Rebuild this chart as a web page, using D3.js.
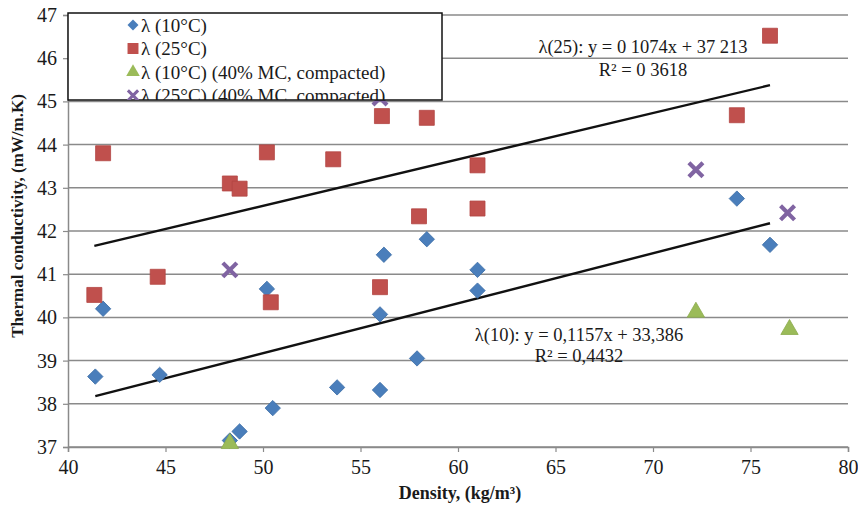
<!DOCTYPE html>
<html>
<head>
<meta charset="utf-8">
<script src="https://cdn.jsdelivr.net/npm/d3@7/dist/d3.min.js"></script>
<style>
  body { margin: 0; background: #fff; }
  svg { display: block; }
  text { font-family: "Liberation Serif", "Times New Roman", serif; fill: #1a1a1a; }
</style>
</head>
<body>
<div id="chart"></div>
<script>
(function() {
  'use strict';

  // lambda at 10 C
  var t10Density = [41.4, 41.8, 44.7, 48.3, 48.8, 50.2, 50.5, 53.8, 56.0, 56.0, 56.2, 57.9, 58.4, 61.0, 61.0, 74.3, 76.0];
  var t10Lambda  = [38.63, 40.2, 38.67, 37.15, 37.36, 40.66, 37.9, 38.38, 38.32, 40.07, 41.45, 39.05, 41.81, 40.62, 41.1, 42.75, 41.68];

  // lambda at 25 C
  var t25Density = [41.35, 41.8, 44.6, 48.3, 48.8, 50.2, 50.4, 53.6, 56.0, 56.1, 58.0, 58.4, 61.0, 61.0, 74.3, 76.0];
  var t25Lambda  = [40.52, 43.8, 40.94, 43.1, 42.98, 43.82, 40.35, 43.66, 40.7, 44.66, 42.34, 44.62, 43.52, 42.52, 44.68, 46.52];

  // 40% MC, compacted
  var c10Density = [48.3, 72.2, 77.0];
  var c10Lambda  = [37.08, 40.12, 39.72];
  var c25Density = [48.3, 56.0, 72.2, 76.9];
  var c25Lambda  = [41.1, 45.08, 43.42, 42.42];

  var seriesNames = ['\u03bb (10\u00b0C)', '\u03bb (25\u00b0C)',
                     '\u03bb (10\u00b0C) (40% MC, compacted)', '\u03bb (25\u00b0C) (40% MC, compacted)'];

  // trend lines as printed on the chart
  var fit10 = { slope: 0.1157, intercept: 33.386 };
  var fit25 = { slope: 0.1074, intercept: 37.213 };
  var fit10Label = ['\u03bb(10): y = 0,1157x + 33,386', 'R\u00b2 = 0,4432'];
  var fit25Label = ['\u03bb(25): y = 0 1074x + 37 213', 'R\u00b2 = 0 3618'];

  var xTicks = [40, 45, 50, 55, 60, 65, 70, 75, 80];
  var yTicks = [37, 38, 39, 40, 41, 42, 43, 44, 45, 46, 47];

  var width = 858, height = 507;
  var margin = { left: 68, right: 10, top: 15, bottom: 60 };

  var svg = d3.select('#chart').append('svg')
      .attr('width', width)
      .attr('height', height);

  var x = d3.scaleLinear().domain([40, 80]).range([margin.left, width - margin.right]);
  var y = d3.scaleLinear().domain([37, 47]).range([height - margin.bottom, margin.top]);

  // gridlines
  svg.append('g')
    .selectAll('line')
    .data(yTicks)
    .enter().append('line')
      .attr('x1', x(40)).attr('x2', x(80))
      .attr('y1', function(d) { return y(d); })
      .attr('y2', function(d) { return y(d); })
      .attr('stroke', '#8a8a8a')
      .attr('stroke-width', 1.5);

  // axes
  var yAxis = svg.append('g')
      .attr('transform', 'translate(' + x(40) + ',0)')
      .call(d3.axisLeft(y).tickValues(yTicks).tickSize(5).tickPadding(6).tickFormat(d3.format('d')));
  var xAxis = svg.append('g')
      .attr('transform', 'translate(0,' + y(37) + ')')
      .call(d3.axisBottom(x).tickValues(xTicks).tickSize(5).tickPadding(8).tickFormat(d3.format('d')));

  [yAxis, xAxis].forEach(function(a) {
    a.select('.domain').attr('stroke', '#8a8a8a').attr('stroke-width', 1.5);
    a.selectAll('.tick line').attr('stroke', '#8a8a8a').attr('stroke-width', 1.2);
    a.selectAll('.tick text')
      .style('font-family', '"Liberation Serif", "Times New Roman", serif')
      .style('font-size', '20px')
      .attr('fill', '#1a1a1a');
  });

  // axis titles
  svg.append('text')
    .attr('transform', 'translate(23,' + 216 + ') rotate(-90)')
    .attr('text-anchor', 'middle')
    .style('font-size', '17px')
    .style('font-weight', 'bold')
    .text('Thermal conductivity, (mW/m.K)');

  svg.append('text')
    .attr('x', 460)
    .attr('y', 499)
    .attr('text-anchor', 'middle')
    .style('font-size', '18px')
    .style('font-weight', 'bold')
    .text('Density, (kg/m\u00b3)');

  // trend lines
  function trend(fit, xs) {
    var ext = d3.extent(xs);
    return ext.map(function(v) { return [x(v), y(fit.slope * v + fit.intercept)]; });
  }
  svg.append('g')
    .selectAll('path')
    .data([trend(fit10, t10Density), trend(fit25, t25Density)])
    .enter().append('path')
      .attr('d', d3.line())
      .attr('stroke', '#111')
      .attr('stroke-width', 2.4)
      .attr('fill', 'none');

  // markers
  function zip(xs, ys) { return xs.map(function(v, i) { return [v, ys[i]]; }); }

  var styles = [
    { data: zip(t10Density, t10Lambda), color: '#4A7EBB', stroke: '#3d6fa8', shape: 'diamond' },
    { data: zip(t25Density, t25Lambda), color: '#C0504D', stroke: '#b34542', shape: 'square' },
    { data: zip(c10Density, c10Lambda), color: '#9BBB59', stroke: '#8cab4c', shape: 'triangle' },
    { data: zip(c25Density, c25Lambda), color: '#8064A2', stroke: '#8064A2', shape: 'x' }
  ];

  function drawMarker(sel, shape, color, stroke) {
    if (shape === 'diamond') {
      sel.attr('d', d3.symbol(d3.symbolSquare, 118)())
        .attr('fill', color).attr('stroke', stroke).attr('stroke-width', 0.8);
    } else if (shape === 'square') {
      sel.attr('d', d3.symbol(d3.symbolSquare, 225)())
        .attr('fill', color).attr('stroke', stroke).attr('stroke-width', 0.8);
    } else if (shape === 'triangle') {
      sel.attr('d', d3.symbol(d3.symbolTriangle, 130)())
        .attr('fill', color).attr('stroke', stroke).attr('stroke-width', 0.8);
    } else {
      sel.attr('d', d3.symbol(d3.symbolX, 130)())
        .attr('fill', 'none').attr('stroke', color).attr('stroke-width', 4.2);
    }
  }

  styles.forEach(function(s) {
    svg.append('g')
      .selectAll('path')
      .data(s.data)
      .enter().append('path')
        .attr('transform', function(d) {
          return 'translate(' + x(d[0]) + ',' + y(d[1]) + ')' + (s.shape === 'diamond' ? ' rotate(45)' : '');
        })
        .call(drawMarker, s.shape, s.color, s.stroke);
  });

  // trend labels
  function fitText(lines, cx, y1, y2) {
    var g = svg.append('g').style('font-size', '18.5px');
    g.append('text').attr('x', cx).attr('y', y1).attr('text-anchor', 'middle').text(lines[0]);
    g.append('text').attr('x', cx).attr('y', y2).attr('text-anchor', 'middle').text(lines[1]);
  }
  fitText(fit25Label, 643, 53, 76);
  fitText(fit10Label, 579, 341, 362);

  // legend
  var lg = { x: 68, y: 13, w: 374, h: 87 };
  svg.append('clipPath').attr('id', 'legendClip')
    .append('rect').attr('x', lg.x).attr('y', lg.y).attr('width', lg.w).attr('height', lg.h);

  var legend = svg.append('g');
  legend.append('rect')
    .attr('x', lg.x).attr('y', lg.y)
    .attr('width', lg.w).attr('height', lg.h)
    .attr('fill', '#fff')
    .attr('stroke', '#111')
    .attr('stroke-width', 1.5);

  var items = legend.append('g').attr('clip-path', 'url(#legendClip)')
    .selectAll('g')
    .data(styles)
    .enter().append('g')
      .attr('transform', function(d, i) { return 'translate(133,' + (25 + i * 23.5) + ')'; });

  items.append('path')
    .attr('transform', function(d) { return d.shape === 'diamond' ? 'rotate(45)' : null; })
    .each(function(d) {
      var p = d3.select(this);
      var size = d.shape === 'square' ? 120 : (d.shape === 'x' ? 70 : 80);
      var sym = { diamond: d3.symbolSquare, square: d3.symbolSquare, triangle: d3.symbolTriangle, x: d3.symbolX }[d.shape];
      p.attr('d', d3.symbol(sym, d.shape === 'diamond' ? 60 : size)());
      if (d.shape === 'x') {
        p.attr('fill', 'none').attr('stroke', d.color).attr('stroke-width', 3);
      } else {
        p.attr('fill', d.color);
      }
    });

  items.append('text')
    .attr('x', 8)
    .attr('dy', '0.35em')
    .style('font-size', '19px')
    .text(function(d, i) { return seriesNames[i]; });
})();
</script>
</body>
</html>
